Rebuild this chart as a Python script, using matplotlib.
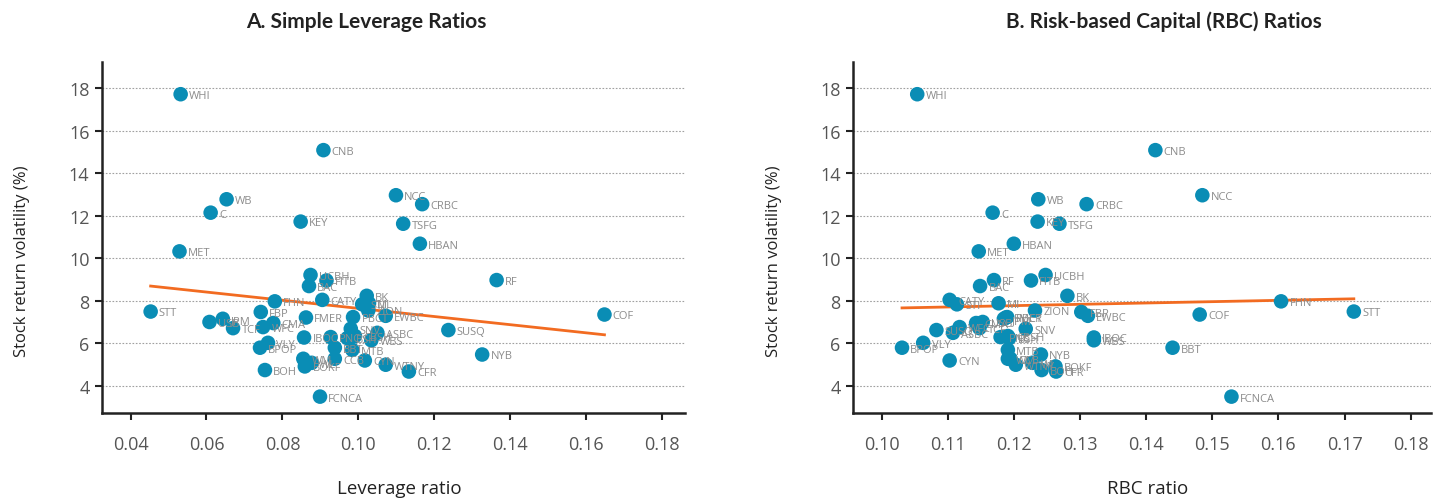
import numpy as np
import matplotlib.pyplot as plt

# Stock return volatility vs. capital ratios, per bank
banks = ["WHI", "CNB", "NCC", "WB", "CRBC", "C", "KEY", "TSFG", "HBAN", "MET",
         "UCBH", "RF", "FITB", "BAC", "BK", "CATY", "FHN", "MI", "STI", "ZION",
         "STT", "FBP", "COF", "EWBC", "FMER", "PBCT", "JPM", "USB", "CMA", "WFC",
         "TCF", "SNV", "SUSQ", "ASBC", "IBOC", "PNC", "CBSH", "BSH", "WBS", "VLY",
         "BPOP", "BBT", "MTB", "NYB", "WM", "CCB", "CYN", "WL", "WTNY", "BOKF",
         "BOH", "CFR", "FCNCA"]
volatility = [17.72, 15.09, 12.97, 12.78, 12.55, 12.15, 11.73, 11.63, 10.69, 10.33,
              9.22, 8.98, 8.96, 8.70, 8.24, 8.05, 7.98, 7.89, 7.84, 7.55,
              7.50, 7.48, 7.36, 7.30, 7.22, 7.24, 7.16, 7.01, 6.96, 6.77,
              6.72, 6.69, 6.63, 6.50, 6.28, 6.30, 6.35, 6.25, 6.15, 6.03,
              5.80, 5.80, 5.70, 5.48, 5.28, 5.28, 5.20, 5.09, 5.00, 4.92,
              4.75, 4.68, 3.50]
leverage = [0.0532, 0.0908, 0.1099, 0.0653, 0.1168, 0.0611, 0.0848, 0.1118, 0.1162, 0.0529,
            0.0874, 0.1364, 0.0916, 0.0870, 0.1022, 0.0905, 0.0780, 0.1028, 0.1010, 0.1026,
            0.0453, 0.0743, 0.1648, 0.1072, 0.0862, 0.0986, 0.0643, 0.0608, 0.0776, 0.0749,
            0.0670, 0.0980, 0.1237, 0.1050, 0.0857, 0.0927, 0.0991, 0.0971, 0.1034, 0.0762,
            0.0741, 0.0938, 0.0984, 0.1326, 0.0855, 0.0938, 0.1017, 0.0877, 0.1072, 0.0859,
            0.0754, 0.1133, 0.0899]
rbc = [0.1054, 0.1414, 0.1485, 0.1237, 0.1310, 0.1168, 0.1236, 0.1269, 0.1200, 0.1147,
       0.1248, 0.1170, 0.1226, 0.1149, 0.1281, 0.1103, 0.1604, 0.1177, 0.1114, 0.1232,
       0.1714, 0.1302, 0.1481, 0.1312, 0.1188, 0.1190, 0.1185, 0.1153, 0.1143, 0.1118,
       0.1148, 0.1218, 0.1083, 0.1108, 0.1321, 0.1180, 0.1191, 0.1193, 0.1321, 0.1063,
       0.1031, 0.1440, 0.1191, 0.1241, 0.1191, 0.1195, 0.1103, 0.1228, 0.1203, 0.1263,
       0.1242, 0.1264, 0.1529]

plt.rcParams['font.family'] = ['Open Sans', 'DejaVu Sans']

dot_color = '#0a8db5'
fit_color = '#f26b21'

fig = plt.figure(figsize=(14.33, 5.02), dpi=100)
ax1 = fig.add_axes([0.0712, 0.1753, 0.4068, 0.699])
ax2 = fig.add_axes([0.5953, 0.1753, 0.4030, 0.699])

panels = [
    (ax1, leverage, "A. Simple Leverage Ratios", "Leverage ratio",
     (0.0325, 0.186), np.arange(0.04, 0.181, 0.02), 0.2555),
    (ax2, rbc, "B. Risk\u2010based Capital (RBC) Ratios", "RBC ratio",
     (0.0957, 0.183), np.arange(0.10, 0.181, 0.01), 0.8125),
]

for ax, xs, title, xlabel, xlim, xticks, title_x in panels:
    xs = np.array(xs)
    ys = np.array(volatility)
    for yv in range(4, 19, 2):
        ax.axhline(yv, color='#a0a0a0', lw=0.8, ls=(0, (1.5, 1.5)), zorder=0)
    ax.scatter(xs, ys, s=110, color=dot_color, edgecolors='none', zorder=3)
    for name, xv, yv in zip(banks, xs, ys):
        ax.annotate(name, (xv, yv), xytext=(6, -1), textcoords='offset points',
                    fontsize=8, color='#8c8c8c', va='center', ha='left', zorder=4)
    slope, intercept = np.polyfit(xs, ys, 1)
    xfit = np.array([xs.min(), xs.max()])
    ax.plot(xfit, intercept + slope * xfit, color=fit_color, lw=2, zorder=2)

    ax.set_xlim(*xlim)
    ax.set_ylim(2.73, 19.23)
    ax.set_xticks(xticks)
    ax.set_xticklabels([f"{t:.2f}" for t in xticks])
    ax.set_yticks(range(4, 19, 2))
    for s in ['top', 'right']:
        ax.spines[s].set_visible(False)
    for s in ['left', 'bottom']:
        ax.spines[s].set_linewidth(1.8)
        ax.spines[s].set_color('#222222')
    ax.tick_params(axis='both', direction='out', length=5, width=1.5,
                   labelsize=13, labelcolor='#555555', color='#222222')
    ax.tick_params(axis='x', pad=11)
    ax.tick_params(axis='y', pad=4)
    ax.text(-0.137, 0.436, "Stock return volatility (%)", transform=ax.transAxes,
            rotation=90, fontsize=12, color='#222222', ha='center', va='center')
    ax.text(0.51, -0.214, xlabel, transform=ax.transAxes,
            fontsize=13.5, color='#222222', ha='center', va='center')
    fig.text(title_x, 0.956, title, fontsize=15, fontweight='bold', color='#222222',
             ha='center', va='center', family=['Lato', 'DejaVu Sans'])

fig.savefig('out.png', dpi=100)
